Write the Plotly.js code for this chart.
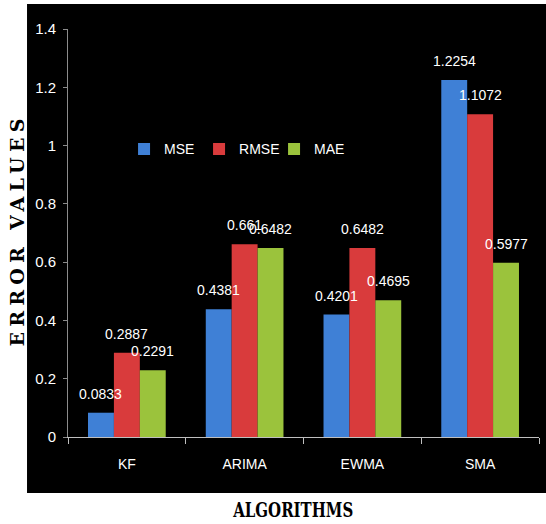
<!DOCTYPE html>
<html>
<head>
<meta charset="utf-8">
<script src="https://cdn.plot.ly/plotly-3.0.1.min.js"></script>
<style>
  html, body { margin: 0; padding: 0; background: #ffffff; }
  #chart { width: 546px; height: 524px; }
</style>
</head>
<body>
<div id="chart"></div>
<script>
// Error metrics per forecasting algorithm
const algorithms = ['KF', 'ARIMA', 'EWMA', 'SMA'];
const mse  = [0.0833, 0.4381, 0.4201, 1.2254];
const rmse = [0.2887, 0.661, 0.6482, 1.1072];
const mae  = [0.2291, 0.6482, 0.4695, 0.5977];
const seriesNames = ['MSE', 'RMSE', 'MAE'];
const seriesColors = ['#3f80d6', '#d93b3c', '#9bc33c'];
const yTicks = [0, 0.2, 0.4, 0.6, 0.8, 1, 1.2, 1.4];
const xTitle = 'ALGORITHMS';
const yTitle = 'ERROR VALUES';

const sans = 'Liberation Sans, Arial, sans-serif';
const serif = 'DejaVu Serif, serif';
const seriesValues = [mse, rmse, mae];
const barGap = 0.34;
const barW = (1 - barGap) / seriesValues.length;

const traces = seriesValues.map((vals, j) => ({
  type: 'bar',
  name: seriesNames[j],
  x: algorithms,
  y: vals,
  marker: { color: seriesColors[j] },
  hoverinfo: 'none'
}));

// Value labels above each bar
const labels = [];
seriesValues.forEach((vals, j) => {
  vals.forEach((v, i) => {
    labels.push({
      xref: 'x', yref: 'y',
      x: i + (j - 1) * barW, y: v,
      text: String(v),
      showarrow: false,
      yanchor: 'bottom',
      yshift: 9,
      font: { family: sans, size: 14, color: '#ffffff' }
    });
  });
});

// Axis titles
labels.push({
  xref: 'paper', yref: 'paper', x: 0.4756, y: -0.180,
  text: xTitle, showarrow: false,
  xanchor: 'center', yanchor: 'middle',
  font: { family: serif, size: 20, weight: 'bold', color: '#000000' }
});
labels.push({
  xref: 'paper', yref: 'paper', x: -0.109, y: 0.5,
  text: yTitle, showarrow: false,
  textangle: -90, xanchor: 'center', yanchor: 'middle',
  font: { family: serif, size: 19, weight: 'bold', color: '#000000' }
});

const layout = {
  width: 546, height: 524,
  margin: { l: 68, r: 7, t: 29, b: 87 },
  paper_bgcolor: '#ffffff',
  plot_bgcolor: '#000000',
  barmode: 'group',
  bargap: barGap,
  bargroupgap: 0,
  showlegend: true,
  legend: {
    orientation: 'h',
    x: 0.119, y: 0.705, xanchor: 'left', yanchor: 'middle',
    bgcolor: 'rgba(0,0,0,0)',
    font: { family: sans, size: 14, color: '#ffffff' },
    itemwidth: 30,
    entrywidth: 30
  },
  xaxis: {
    type: 'category',
    tickfont: { family: sans, size: 14, color: '#ffffff' },
    ticklabelstandoff: 14,
    showline: true, linecolor: '#bfbfbf', linewidth: 1,
    ticks: 'outside', tickson: 'boundaries', ticklen: 6, tickcolor: '#bfbfbf',
    showgrid: false, zeroline: false
  },
  yaxis: {
    range: [0, 1.4],
    tickvals: yTicks,
    ticktext: yTicks.map(String),
    tickfont: { family: sans, size: 15, color: '#ffffff' },
    ticklabelstandoff: 4,
    showline: true, linecolor: '#8c8c8c', linewidth: 1,
    ticks: 'outside', ticklen: 4, tickcolor: '#8c8c8c',
    showgrid: false, zeroline: false
  },
  shapes: [{
    type: 'rect', xref: 'paper', yref: 'paper', layer: 'below',
    x0: -0.087, x1: 1.02, y0: -0.137, y1: 1.061,
    fillcolor: '#000000', line: { width: 0 }
  }],
  annotations: labels
};

Plotly.newPlot('chart', traces, layout, { displayModeBar: false, staticPlot: true })
  .then(() => {
    // Condensed horizontal caption, spaced vertical caption
    document.querySelectorAll('.annotation-text').forEach(t => {
      if (t.textContent === xTitle) {
        t.setAttribute('textLength', '120');
        t.setAttribute('lengthAdjust', 'spacingAndGlyphs');
      } else if (t.textContent === yTitle) {
        t.setAttribute('textLength', '228');
        t.setAttribute('lengthAdjust', 'spacing');
      }
    });
  });
</script>
</body>
</html>
